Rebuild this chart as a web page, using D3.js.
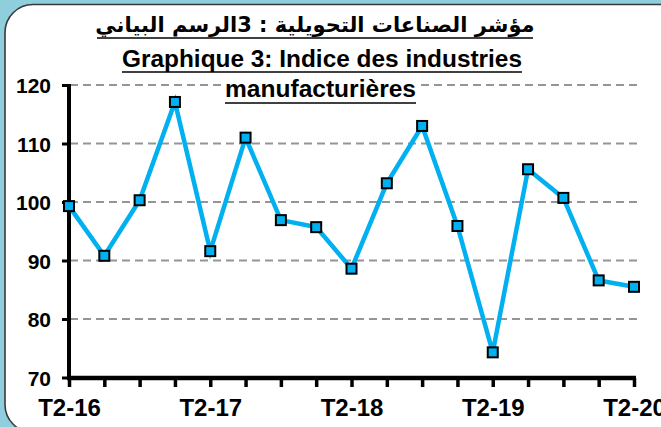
<!DOCTYPE html>
<html><head><meta charset="utf-8">
<script src="https://cdn.jsdelivr.net/npm/d3@7"></script>
<style>
html,body{margin:0;padding:0;background:#8FCEDC;overflow:hidden;}
svg{display:block;}
</style></head>
<body>
<script>
const categories = ["T2-16","T3-16","T4-16","T1-17","T2-17","T3-17","T4-17","T1-18","T2-18","T3-18","T4-18","T1-19","T2-19","T3-19","T4-19","T1-20","T2-20"];
const values = [99.3,90.8,100.3,117.1,91.6,111.0,96.9,95.7,88.6,103.2,113.0,95.9,74.3,105.6,100.7,86.6,85.5];
const yTicks = [70,80,90,100,110,120];
const shownLabels = ["T2-16","T2-17","T2-18","T2-19","T2-20"];
const titleAr = "مؤشر الصناعات التحويلية : 3الرسم البياني";
const titleFr1 = "Graphique 3: Indice des industries";
const titleFr2 = "manufacturières";

const W = 661, H = 427;
const svg = d3.select("body").append("svg").attr("width", W).attr("height", H);

// panel
svg.append("rect").attr("x",5).attr("y",4.5).attr("width",720).attr("height",428)
  .attr("rx",28).attr("ry",28).attr("fill","#fff").attr("stroke","#3a3a3a").attr("stroke-width",1.6);

const x = d3.scalePoint().domain(categories).range([69, 634]);
const y = d3.scaleLinear().domain([70,120]).range([377.5, 85]);

// gridlines
svg.append("g").selectAll("line").data(yTicks.filter(d=>d>70)).join("line")
  .attr("x1",70).attr("x2",638).attr("y1",d=>y(d)).attr("y2",d=>y(d))
  .attr("stroke","#959595").attr("stroke-width",2).attr("stroke-dasharray","8,5");

// titles
const ff = "'Liberation Sans', Arial, sans-serif";
svg.append("text").attr("x",315).attr("y",32).attr("text-anchor","middle")
  .attr("direction","rtl").attr("font-family","'DejaVu Sans', sans-serif").attr("font-weight","bold")
  .attr("font-size",21).attr("fill","#000").text(titleAr);
svg.append("line").attr("x1",97).attr("x2",533).attr("y1",38).attr("y2",38).attr("stroke","#000").attr("stroke-width",1.5);
svg.append("text").attr("x",122).attr("y",67).attr("font-family",ff).attr("font-weight","bold")
  .attr("font-size",23).attr("textLength",400).attr("lengthAdjust","spacingAndGlyphs").text(titleFr1);
svg.append("line").attr("x1",122).attr("x2",522).attr("y1",72).attr("y2",72).attr("stroke","#000").attr("stroke-width",1.5);
svg.append("rect").attr("x",222).attr("y",79).attr("width",198).attr("height",26).attr("fill","#fff");
svg.append("text").attr("x",225).attr("y",97).attr("font-family",ff).attr("font-weight","bold")
  .attr("font-size",23).attr("textLength",191).attr("lengthAdjust","spacingAndGlyphs").text(titleFr2);
svg.append("line").attr("x1",225).attr("x2",416).attr("y1",103).attr("y2",103).attr("stroke","#000").attr("stroke-width",1.5);

// y axis
const yAxis = svg.append("g").attr("transform","translate(69,0)")
  .call(d3.axisLeft(y).tickValues(yTicks).tickSize(7).tickPadding(11).tickFormat(d3.format("d")));
yAxis.select(".domain").remove();
yAxis.selectAll(".tick line").attr("stroke","#000").attr("stroke-width",3);
yAxis.selectAll(".tick text").attr("font-family",ff).attr("font-weight","bold").attr("font-size",21).attr("fill","#000").attr("dy","0.36em");
svg.append("line").attr("x1",69).attr("x2",69).attr("y1",84).attr("y2",379.5).attr("stroke","#000").attr("stroke-width",4);

// x axis
const xAxis = svg.append("g").attr("transform","translate(0,378)")
  .call(d3.axisBottom(x).tickSize(9).tickPadding(6).tickFormat(d => shownLabels.includes(d) ? d : ""));
xAxis.select(".domain").remove();
xAxis.selectAll(".tick line").attr("stroke","#000").attr("stroke-width",3.5);
xAxis.selectAll(".tick text").attr("font-family",ff).attr("font-weight","bold").attr("font-size",24).attr("fill","#000").attr("dy","0.95em");
svg.append("line").attr("x1",67).attr("x2",636).attr("y1",378).attr("y2",378).attr("stroke","#000").attr("stroke-width",4.5);

// line
const line = d3.line().x((d,i)=>x(categories[i])).y(d=>y(d));
svg.append("path").datum(values).attr("d",line).attr("fill","none")
  .attr("stroke","#00B0F0").attr("stroke-width",4.5).attr("stroke-linejoin","miter");

svg.append("g").selectAll("rect").data(values).join("rect")
  .attr("x",(d,i)=>x(categories[i])-5).attr("y",d=>y(d)-5).attr("width",10).attr("height",10)
  .attr("fill","#00B0F0").attr("stroke","#000").attr("stroke-width",2);
</script>
</body></html>
